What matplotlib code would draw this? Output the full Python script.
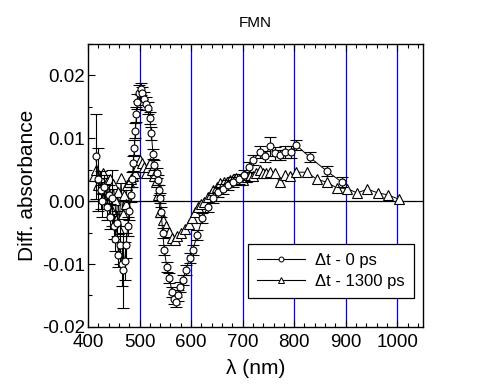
import matplotlib
matplotlib.use("Agg")
import matplotlib.pyplot as plt
from matplotlib.ticker import MultipleLocator
from matplotlib.lines import Line2D

plt.rcParams['font.family'] = ['Liberation Sans', 'DejaVu Sans']

# dt = 0 ps (circles, with error bars)
wl0 = [415, 420, 425, 428, 432, 436, 440, 443, 446, 450, 453, 456, 459, 462, 465, 468,
       471, 474, 477, 480, 483, 486, 488, 490, 492, 494, 496, 499, 502, 505, 508, 512,
       516, 520, 523, 526, 529, 533, 536, 538, 540, 542, 545, 548, 553, 558, 563, 567,
       571, 575, 579, 584, 590, 597, 603, 612, 622, 632, 642, 652, 662, 672, 682, 692,
       702, 712, 720, 733, 743, 753, 762, 772, 783, 793, 803, 830, 863, 893]
a0 = [0.0071, 0.0035, 0.0018, 0.0000, 0.0022, -0.0010, 0.0010, -0.0025, 0.0005, -0.0040,
      -0.0060, -0.0035, -0.0085, -0.0070, -0.0100, -0.0110, -0.0095, -0.0070, -0.0040, -0.0015,
      0.0010, 0.0035, 0.0060, 0.0085, 0.0112, 0.0138, 0.0158, 0.0172, 0.0178, 0.0172,
      0.0163, 0.0155, 0.0148, 0.0132, 0.0108, 0.0075, 0.0057, 0.0045, 0.0033, 0.0018,
      0.0005, -0.0017, -0.0050, -0.0078, -0.0105, -0.0122, -0.0145, -0.0155, -0.0160, -0.0150,
      -0.0137, -0.0125, -0.0110, -0.0090, -0.0078, -0.0054, -0.0027, -0.0010, 0.0005, 0.0015,
      0.0020, 0.0025, 0.0030, 0.0035, 0.0042, 0.0055, 0.0065, 0.0078, 0.0071, 0.0087,
      0.0076, 0.0073, 0.0078, 0.0078, 0.0090, 0.0070, 0.0048, 0.0030]
e0 = [0.0067, 0.0050, 0.0030, 0.0025, 0.0020, 0.0020, 0.0015, 0.0020, 0.0045, 0.0020,
      0.0020, 0.0020, 0.0020, 0.0030, 0.0035, 0.0060, 0.0030, 0.0020, 0.0015, 0.0015,
      0.0012, 0.0012, 0.0012, 0.0012, 0.0012, 0.0012, 0.0012, 0.0012, 0.0010, 0.0010,
      0.0010, 0.0010, 0.0010, 0.0010, 0.0010, 0.0008, 0.0008, 0.0008, 0.0008, 0.0008,
      0.0008, 0.0008, 0.0008, 0.0008, 0.0008, 0.0008, 0.0008, 0.0008, 0.0008, 0.0008,
      0.0008, 0.0008, 0.0008, 0.0008, 0.0008, 0.0008, 0.0008, 0.0008, 0.0008, 0.0008,
      0.0008, 0.0008, 0.0008, 0.0008, 0.0008, 0.0008, 0.0008, 0.0010, 0.0008, 0.0015,
      0.0010, 0.0008, 0.0010, 0.0010, 0.0008, 0.0008, 0.0008, 0.0008]

# dt = 1300 ps (triangles)
wl1 = [412, 416, 420, 424, 427, 430, 433, 436, 440, 443, 446, 449, 452, 455, 458, 461,
       464, 467, 470, 473, 476, 480, 484, 488, 492, 496, 500, 504, 508, 512, 516, 520,
       524, 528, 532, 536, 540, 546, 551, 557, 563, 568, 573, 580, 588, 595, 601, 607,
       613, 620, 626, 632, 638, 643, 650, 656, 663, 669, 676, 682, 688, 695, 701, 708,
       714, 720, 726, 733, 740, 746, 754, 762, 772, 782, 791, 803, 824, 844, 863, 883,
       903, 922, 942, 963, 982, 1003]
a1 = [0.0040, 0.0050, 0.0025, 0.0038, 0.0020, 0.0045, 0.0010, 0.0030, 0.0005, 0.0035,
      -0.0015, 0.0028, 0.0002, -0.0030, 0.0015, -0.0045, 0.0036, -0.0020, 0.0010, -0.0005,
      0.0025, 0.0030, 0.0035, 0.0040, 0.0045, 0.0055, 0.0065, 0.0060, 0.0055, 0.0045,
      0.0055, 0.0060, 0.0050, 0.0040, 0.0030, 0.0010, -0.0017, -0.0030, -0.0040, -0.0049,
      -0.0058, -0.0062, -0.0055, -0.0050, -0.0045, -0.0036, -0.0027, -0.0018, -0.0010, -0.0005,
      -0.0002, 0.0006, 0.0012, 0.0017, 0.0023, 0.0029, 0.0030, 0.0030, 0.0033, 0.0035,
      0.0036, 0.0034, 0.0033, 0.0038, 0.0040, 0.0040, 0.0044, 0.0049, 0.0044, 0.0044,
      0.0046, 0.0044, 0.0030, 0.0041, 0.0040, 0.0046, 0.0046, 0.0035, 0.0030, 0.0021,
      0.0020, 0.0013, 0.0019, 0.0013, 0.0010, 0.0003]

labels = ['\u0394t - 0 ps', '\u0394t - 1300 ps']
grid_x = [500, 600, 700, 800, 900, 1000]

fig = plt.figure(figsize=(4.9, 3.92), dpi=100)
ax = fig.add_axes([0.1796, 0.166, 0.6837, 0.722])

for gx in grid_x:
    ax.axvline(gx, color='#0000ee', lw=0.9, zorder=1)
ax.axhline(0, color='black', lw=0.9, zorder=1)

ax.errorbar(wl0, a0, yerr=e0, fmt='-o', color='black', mfc='white', mec='black',
            ms=5, mew=0.8, lw=0.7, elinewidth=0.8, capsize=4.5, capthick=0.9,
            zorder=3)
ax.plot(wl1, a1, '-^', color='black', mfc='white', mec='black', ms=6.5, mew=0.8,
        lw=0.7, zorder=2)

ax.set_xlim(400, 1050)
ax.set_ylim(-0.02, 0.025)
ax.set_xticks([400, 500, 600, 700, 800, 900, 1000])
ax.set_yticks([-0.02, -0.01, 0.0, 0.01, 0.02])
ax.set_yticklabels(['-0.02', '-0.01', '0.00', '0.01', '0.02'])
ax.xaxis.set_minor_locator(MultipleLocator(20))
ax.yaxis.set_minor_locator(MultipleLocator(0.005))
ax.tick_params(which='both', direction='in', top=True, right=False, labelsize=13.5,
               width=0.8, pad=2)
ax.tick_params(axis='x', which='major', pad=5)
ax.tick_params(which='major', length=5)
ax.tick_params(which='minor', length=3)
for s in ax.spines.values():
    s.set_linewidth(1.0)

ax.set_xlabel('\u03bb (nm)', fontsize=15, labelpad=6)
ax.set_ylabel('Diff. absorbance', fontsize=15, labelpad=4)
ax.set_title('FMN', fontsize=11, pad=12)

handles = [Line2D([], [], color='black', lw=0.8, marker='o', ms=3.5, mfc='white', mew=0.7),
           Line2D([], [], color='black', lw=0.8, marker='^', ms=4, mfc='white', mew=0.7)]
leg = ax.legend(handles, labels, loc='lower right', bbox_to_anchor=(0.973, 0.1025),
                borderaxespad=0, fontsize=12, frameon=True, fancybox=False,
                edgecolor='black', framealpha=1, handlelength=2.9, handletextpad=0.6,
                borderpad=0.55, labelspacing=0.35)
leg.get_frame().set_linewidth(0.9)

fig.savefig('out.png', dpi=100)
